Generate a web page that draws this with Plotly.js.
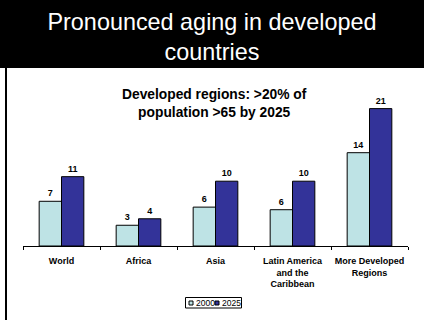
<!DOCTYPE html>
<html>
<head>
<meta charset="utf-8">
<script src="https://cdn.plot.ly/plotly-3.0.1.min.js"></script>
<style>html,body{margin:0;padding:0;background:#fff;}#chart{width:424px;height:320px;}</style>
</head>
<body>
<div id="chart"></div>
<script>
var categories = ["World", "Africa", "Asia", "Latin America<br>and the<br>Caribbean", "More Developed<br>Regions"];
var values2000 = [6.9, 3.2, 6.0, 5.6, 14.4];
var values2025 = [10.7, 4.2, 10.0, 10.0, 21.2];
var seriesNames = ["2000", "2025"];
var seriesColors = ["#BEE3E5", "#333399"];

var FONT = "Liberation Sans, Arial, sans-serif";

// pixel -> paper helpers (plot area: x 23..408, y 84..246)
var L = 23, R = 16, T = 84, B = 74, W = 424, H = 320;
var pw = W - L - R, ph = H - T - B;
function px(x) { return (x - L) / pw; }
function py(y) { return (H - B - y) / ph; }

var traces = [values2000, values2025].map(function (vals, i) {
  return {
    type: "bar",
    name: seriesNames[i],
    x: categories,
    y: vals,
    marker: { color: seriesColors[i], line: { color: "#000", width: 1 } },
    texttemplate: "%{y:.0f}",
    textposition: "outside",
    textfont: { family: FONT, size: 9, color: "#000", weight: "bold" },
    cliponaxis: false,
    showlegend: false,
    hoverinfo: "skip"
  };
});

var shapes = [
  // black banner
  { type: "rect", xref: "paper", yref: "paper", x0: px(0), x1: px(424), y0: py(68), y1: py(0),
    fillcolor: "#000", line: { width: 0 }, layer: "below" },
  // left border line
  { type: "line", xref: "paper", yref: "paper", x0: px(6), x1: px(6), y0: py(68), y1: py(320),
    line: { color: "#000", width: 2 } },
  // legend box
  { type: "rect", xref: "paper", yref: "paper", x0: px(185.5), x1: px(241.5), y0: py(308), y1: py(297.5),
    fillcolor: "#fff", line: { color: "#000", width: 1 } },
  { type: "rect", xref: "paper", yref: "paper", x0: px(189), x1: px(193), y0: py(305), y1: py(301),
    fillcolor: seriesColors[0], line: { color: "#000", width: 1 } },
  { type: "rect", xref: "paper", yref: "paper", x0: px(215), x1: px(219), y0: py(305), y1: py(301),
    fillcolor: seriesColors[1], line: { color: "#000", width: 1 } }
];

var annotations = [
  { text: "<b>Developed regions: >20% of<br>population >65 by 2025</b>", xref: "paper", yref: "paper",
    x: px(214), y: py(103.5), xanchor: "center", yanchor: "middle", showarrow: false,
    font: { family: FONT, size: 13.8, color: "#000" } },
  { text: seriesNames[0], xref: "paper", yref: "paper", x: px(193.5), y: py(303), xanchor: "left", yanchor: "middle",
    showarrow: false, font: { family: FONT, size: 8.5, color: "#000" } },
  { text: seriesNames[1], xref: "paper", yref: "paper", x: px(219.5), y: py(303), xanchor: "left", yanchor: "middle",
    showarrow: false, font: { family: FONT, size: 8.5, color: "#000" } }
];

var layout = {
  width: W, height: H,
  margin: { l: L, r: R, t: T, b: B, pad: 0 },
  paper_bgcolor: "#fff",
  plot_bgcolor: "rgba(0,0,0,0)",
  title: { text: "Pronounced aging in developed<br>countries", font: { family: FONT, size: 23.4, color: "#fff" },
    x: 0.5, xref: "container", xanchor: "center", y: 1 - 30 / 320, yref: "container", yanchor: "middle" },
  barmode: "group",
  bargap: 0.42,
  bargroupgap: 0,
  xaxis: {
    type: "category",
    showline: true, linecolor: "#000", linewidth: 1,
    ticks: "outside", tickson: "boundaries", ticklen: 3, tickcolor: "#000", tickwidth: 1,
    tickangle: 0, automargin: false, ticklabelstandoff: 6,
    tickfont: { family: FONT, size: 9, color: "#000", weight: "bold" },
    showgrid: false, zeroline: false, fixedrange: true
  },
  yaxis: {
    range: [0, 25], visible: false, showgrid: false, zeroline: false, fixedrange: true
  },
  shapes: shapes,
  annotations: annotations,
  showlegend: false
};

Plotly.newPlot("chart", traces, layout, { displayModeBar: false, staticPlot: true });
</script>
</body>
</html>
